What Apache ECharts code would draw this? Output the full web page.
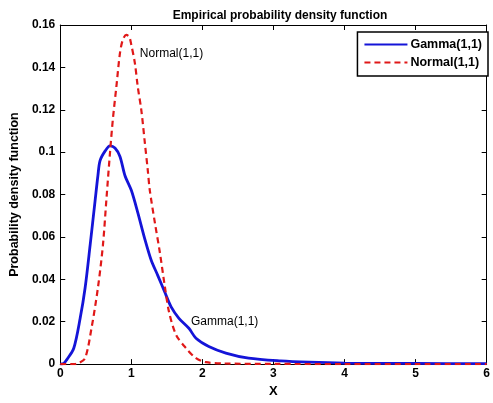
<!DOCTYPE html>
<html><head><meta charset="utf-8">
<script src="https://cdn.jsdelivr.net/npm/echarts@6/dist/echarts.min.js"></script>
<style>html,body{margin:0;padding:0;background:#fff}#c{width:493px;height:403px}</style>
</head><body><div id="c"></div>
<script>
var titleText = 'Empirical probability density function';
var xLabel = 'X';
var yLabel = 'Probability density function';
var seriesNames = ['Gamma(1,1)', 'Normal(1,1)'];

var gammaX = [0, 0.05, 0.09, 0.19, 0.28, 0.35, 0.42, 0.49, 0.53, 0.56, 0.63, 0.70, 0.77, 0.84, 0.91, 1.0, 1.09, 1.19, 1.28, 1.37, 1.47, 1.56, 1.67, 1.81, 1.91, 2.09, 2.33, 2.65, 3.1, 3.5, 4.0, 5.0, 6.0];
var gammaY = [0, 0.0003, 0.002, 0.0075, 0.0216, 0.036, 0.056, 0.077, 0.089, 0.096, 0.1005, 0.103, 0.102, 0.098, 0.089, 0.082, 0.0716, 0.059, 0.049, 0.042, 0.034, 0.027, 0.0216, 0.0169, 0.0122, 0.0083, 0.0052, 0.0028, 0.0015, 0.0009, 0.0005, 0.0003, 0.0002];

var normalX = [0, 0.2, 0.26, 0.35, 0.44, 0.53, 0.60, 0.65, 0.70, 0.74, 0.79, 0.84, 0.88, 0.93, 0.97, 1.0, 1.05, 1.09, 1.14, 1.19, 1.23, 1.26, 1.33, 1.40, 1.47, 1.53, 1.63, 1.77, 1.91, 2.05, 2.3, 3, 4, 5, 6];
var normalY = [0, 0, 0.0005, 0.0028, 0.017, 0.036, 0.056, 0.078, 0.0998, 0.1154, 0.131, 0.1467, 0.153, 0.1553, 0.1545, 0.1506, 0.142, 0.131, 0.120, 0.1045, 0.092, 0.082, 0.067, 0.053, 0.037, 0.0247, 0.0138, 0.0075, 0.0028, 0.0009, 0.0003, 0.0001, 0, 0, 0];

var xTicks = [0, 1, 2, 3, 4, 5, 6];
var yTicks = [0, 0.02, 0.04, 0.06, 0.08, 0.1, 0.12, 0.14, 0.16];

var gammaNote = {text: 'Gamma(1,1)', coord: [1.84, 0.0198]};
var normalNote = {text: 'Normal(1,1)', coord: [1.12, 0.1465]};

function pairs(xs, ys) { return xs.map(function (x, i) { return [x, ys[i]]; }); }

var font = 'Liberation Sans, Arial, sans-serif';
var chart = echarts.init(document.getElementById('c'));
var axisCommon = {
  axisLine: {show: true, onZero: false, lineStyle: {color: '#000', width: 1}},
  axisTick: {show: true, inside: true, length: 5, lineStyle: {color: '#000'}},
  splitLine: {show: false}
};
function mk(base, extra) { return Object.assign({}, base, extra); }

chart.setOption({
  animation: false,
  backgroundColor: '#fff',
  title: {text: titleText, left: 275, textAlign: 'center', top: 5,
    textStyle: {fontFamily: font, fontSize: 12, fontWeight: 'bold', color: '#000'}},
  legend: {
    right: 5, top: 32, orient: 'vertical', backgroundColor: '#fff',
    borderColor: '#000', borderWidth: 1.5, borderRadius: 0, padding: [6, 6, 7, 6],
    itemWidth: 43, itemHeight: 14, itemGap: 5,
    itemStyle: {color: 'transparent', borderWidth: 0, opacity: 0},
    textStyle: {fontFamily: font, fontSize: 12.5, fontWeight: 'bold', color: '#000', padding: [0, 0, 0, -2]},
    data: seriesNames
  },
  grid: {left: 60, right: 3, top: 25, bottom: 37},
  xAxis: [
    mk(axisCommon, {type: 'value', min: 0, max: 6, interval: 1, position: 'bottom',
      name: xLabel, nameLocation: 'middle', nameGap: 20,
      nameTextStyle: {fontFamily: font, fontSize: 13, fontWeight: 'bold', color: '#000'},
      axisLabel: {fontFamily: font, fontSize: 12, fontWeight: 'bold', color: '#000', margin: 4,
        formatter: function (v) { return xTicks.indexOf(v) >= 0 ? String(v) : ''; }}}),
    mk(axisCommon, {type: 'value', min: 0, max: 6, interval: 1, position: 'top', axisLabel: {show: false}})
  ],
  yAxis: [
    mk(axisCommon, {type: 'value', min: 0, max: 0.16, interval: 0.02, position: 'left',
      name: yLabel, nameLocation: 'middle', nameGap: 38,
      nameTextStyle: {fontFamily: font, fontSize: 12.5, fontWeight: 'bold', color: '#000'},
      axisLabel: {fontFamily: font, fontSize: 12, fontWeight: 'bold', color: '#000', margin: 5,
        formatter: function (v) { var r = Math.round(v * 100) / 100; return String(r); }}}),
    mk(axisCommon, {type: 'value', min: 0, max: 0.16, interval: 0.02, position: 'right', axisLabel: {show: false}})
  ],
  series: [
    {name: seriesNames[0], type: 'line', data: pairs(gammaX, gammaY), symbol: 'none', smooth: 0.3,
      lineStyle: {color: '#1414d8', width: 2.8}, itemStyle: {color: '#1414d8'}, z: 3,
      markPoint: {symbol: 'circle', symbolSize: 0, silent: true,
        label: {show: true, position: 'right', distance: 0, formatter: gammaNote.text,
          fontFamily: font, fontSize: 12, color: '#000'},
        data: [{coord: gammaNote.coord}]}},
    {name: seriesNames[1], type: 'line', data: pairs(normalX, normalY), symbol: 'none', smooth: 0.3,
      lineStyle: {color: '#e01818', width: 2.2, type: [6, 4]}, itemStyle: {color: '#e01818'}, z: 4,
      markPoint: {symbol: 'circle', symbolSize: 0, silent: true,
        label: {show: true, position: 'right', distance: 0, formatter: normalNote.text,
          fontFamily: font, fontSize: 12, color: '#000'},
        data: [{coord: normalNote.coord}]}}
  ]
});
</script></body></html>
